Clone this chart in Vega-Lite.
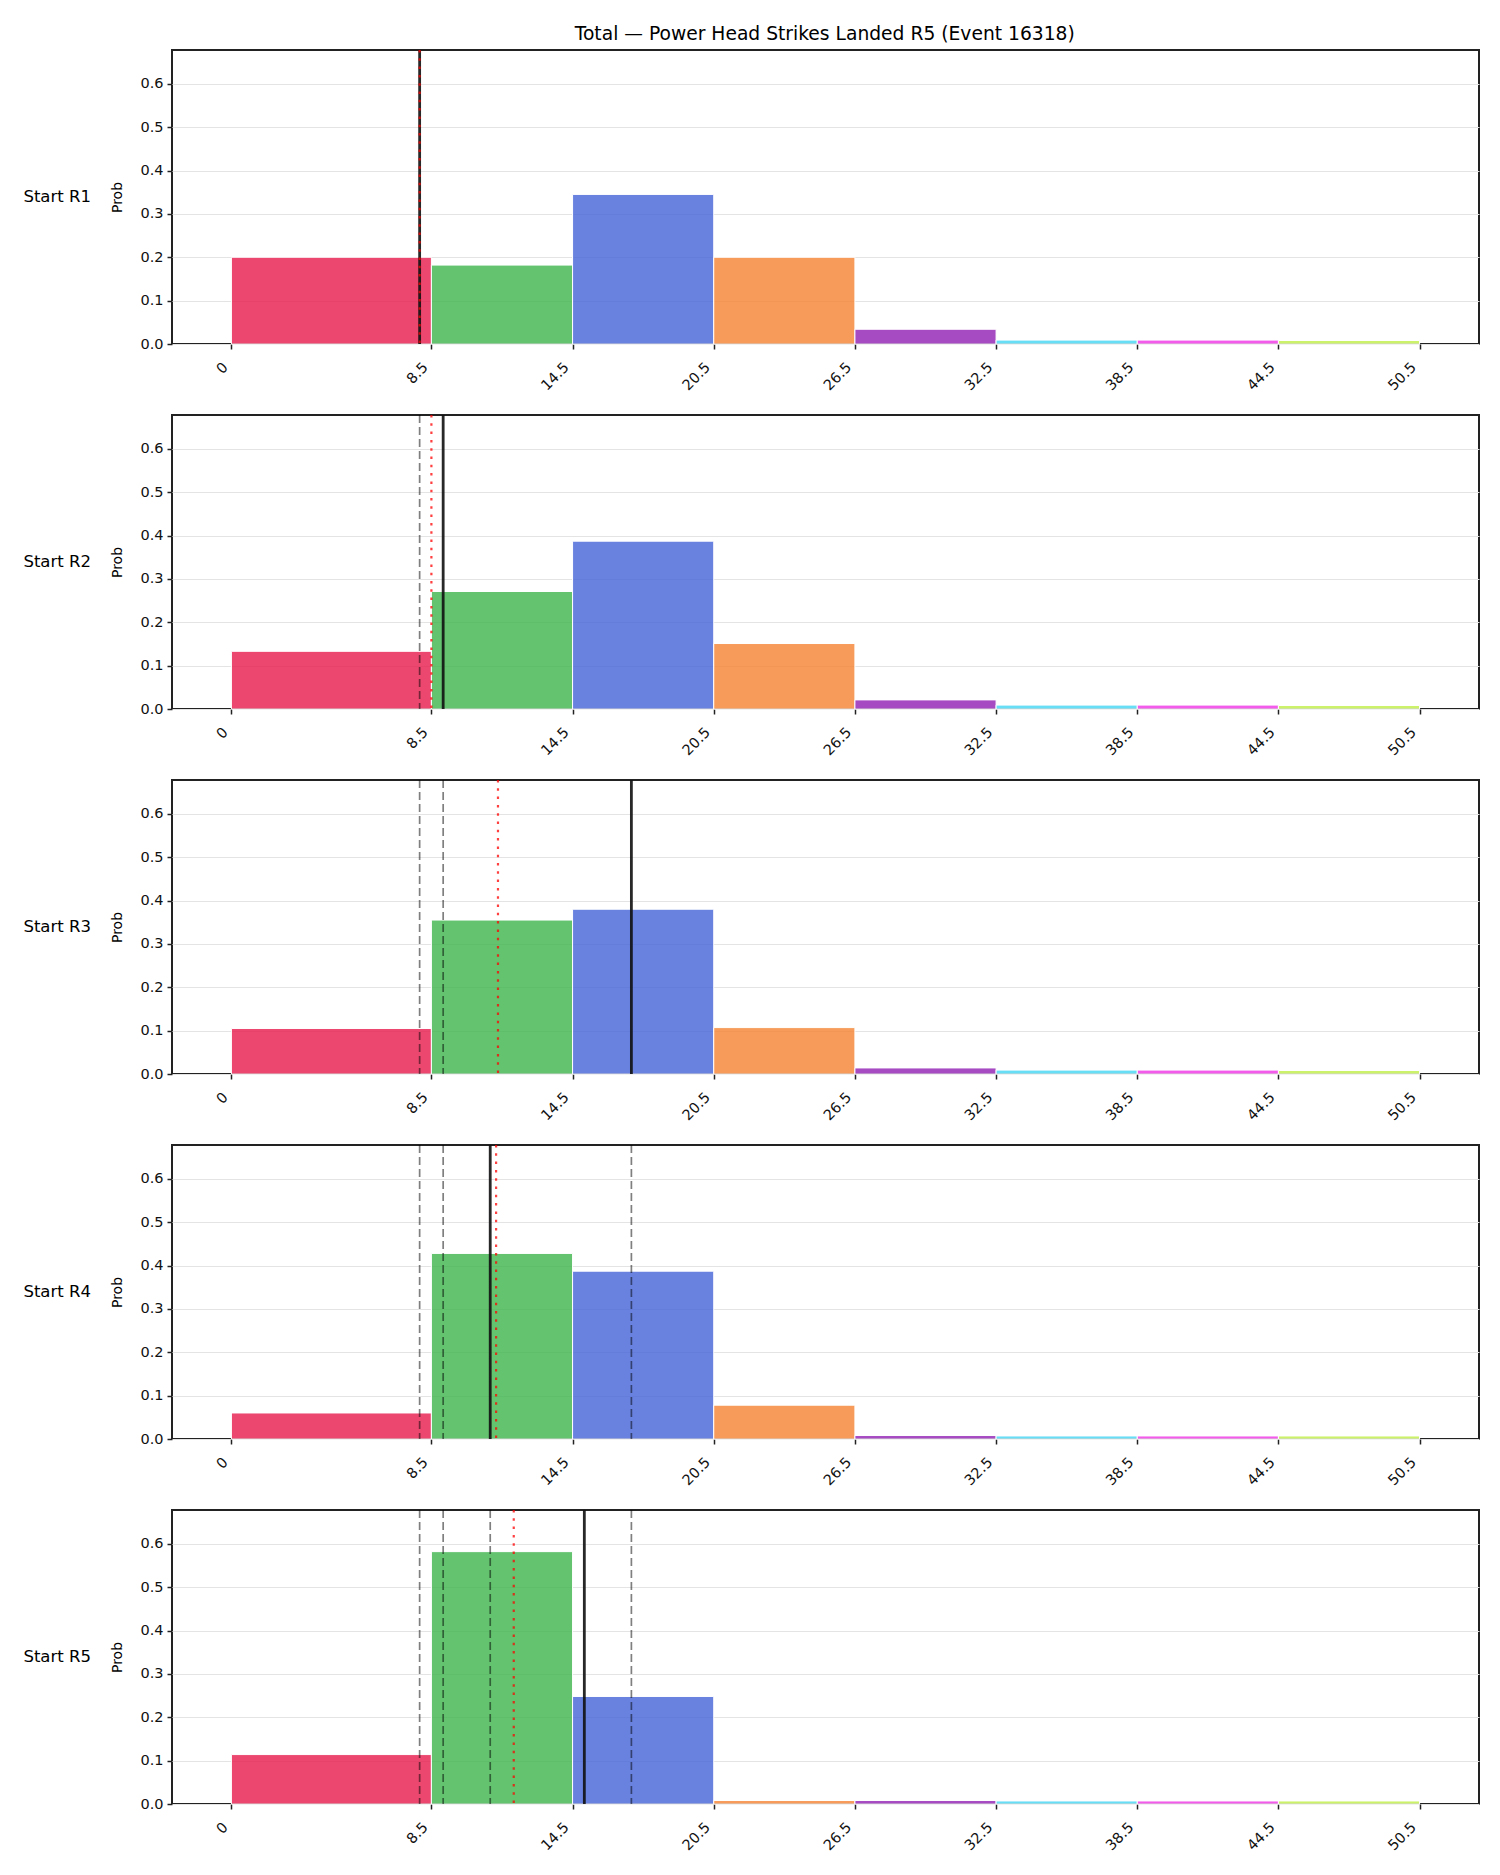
{
  "$schema": "https://vega.github.io/schema/vega-lite/v6.json",
  "padding": {"left": 23, "top": 24, "right": 5, "bottom": 5},
  "title": {
    "text": "Total — Power Head Strikes Landed R5 (Event 16318)",
    "fontSize": 18.7,
    "fontWeight": "normal",
    "font": "DejaVu Sans",
    "color": "#000",
    "anchor": "middle",
    "offset": 4.1,
    "dx": 73
  },
  "data": {
    "values": [
      {"start": "Start R1", "kind": "bar", "bin": "0–8.5", "lo": 0, "hi": 8.5, "prob": 0.200},
      {"start": "Start R1", "kind": "bar", "bin": "8.5–14.5", "lo": 8.5, "hi": 14.5, "prob": 0.182},
      {"start": "Start R1", "kind": "bar", "bin": "14.5–20.5", "lo": 14.5, "hi": 20.5, "prob": 0.345},
      {"start": "Start R1", "kind": "bar", "bin": "20.5–26.5", "lo": 20.5, "hi": 26.5, "prob": 0.200},
      {"start": "Start R1", "kind": "bar", "bin": "26.5–32.5", "lo": 26.5, "hi": 32.5, "prob": 0.034},
      {"start": "Start R1", "kind": "bar", "bin": "32.5–38.5", "lo": 32.5, "hi": 38.5, "prob": 0.009},
      {"start": "Start R1", "kind": "bar", "bin": "38.5–44.5", "lo": 38.5, "hi": 44.5, "prob": 0.009},
      {"start": "Start R1", "kind": "bar", "bin": "44.5–50.5", "lo": 44.5, "hi": 50.5, "prob": 0.008},
      {"start": "Start R1", "kind": "current", "value": 8},
      {"start": "Start R1", "kind": "mean", "value": 8},

      {"start": "Start R2", "kind": "bar", "bin": "0–8.5", "lo": 0, "hi": 8.5, "prob": 0.133},
      {"start": "Start R2", "kind": "bar", "bin": "8.5–14.5", "lo": 8.5, "hi": 14.5, "prob": 0.271},
      {"start": "Start R2", "kind": "bar", "bin": "14.5–20.5", "lo": 14.5, "hi": 20.5, "prob": 0.387},
      {"start": "Start R2", "kind": "bar", "bin": "20.5–26.5", "lo": 20.5, "hi": 26.5, "prob": 0.151},
      {"start": "Start R2", "kind": "bar", "bin": "26.5–32.5", "lo": 26.5, "hi": 32.5, "prob": 0.021},
      {"start": "Start R2", "kind": "bar", "bin": "32.5–38.5", "lo": 32.5, "hi": 38.5, "prob": 0.009},
      {"start": "Start R2", "kind": "bar", "bin": "38.5–44.5", "lo": 38.5, "hi": 44.5, "prob": 0.009},
      {"start": "Start R2", "kind": "bar", "bin": "44.5–50.5", "lo": 44.5, "hi": 50.5, "prob": 0.008},
      {"start": "Start R2", "kind": "prior", "value": 8},
      {"start": "Start R2", "kind": "current", "value": 9},
      {"start": "Start R2", "kind": "mean", "value": 8.5},

      {"start": "Start R3", "kind": "bar", "bin": "0–8.5", "lo": 0, "hi": 8.5, "prob": 0.105},
      {"start": "Start R3", "kind": "bar", "bin": "8.5–14.5", "lo": 8.5, "hi": 14.5, "prob": 0.355},
      {"start": "Start R3", "kind": "bar", "bin": "14.5–20.5", "lo": 14.5, "hi": 20.5, "prob": 0.380},
      {"start": "Start R3", "kind": "bar", "bin": "20.5–26.5", "lo": 20.5, "hi": 26.5, "prob": 0.107},
      {"start": "Start R3", "kind": "bar", "bin": "26.5–32.5", "lo": 26.5, "hi": 32.5, "prob": 0.014},
      {"start": "Start R3", "kind": "bar", "bin": "32.5–38.5", "lo": 32.5, "hi": 38.5, "prob": 0.009},
      {"start": "Start R3", "kind": "bar", "bin": "38.5–44.5", "lo": 38.5, "hi": 44.5, "prob": 0.009},
      {"start": "Start R3", "kind": "bar", "bin": "44.5–50.5", "lo": 44.5, "hi": 50.5, "prob": 0.008},
      {"start": "Start R3", "kind": "prior", "value": 8},
      {"start": "Start R3", "kind": "prior", "value": 9},
      {"start": "Start R3", "kind": "current", "value": 17},
      {"start": "Start R3", "kind": "mean", "value": 11.33},

      {"start": "Start R4", "kind": "bar", "bin": "0–8.5", "lo": 0, "hi": 8.5, "prob": 0.060},
      {"start": "Start R4", "kind": "bar", "bin": "8.5–14.5", "lo": 8.5, "hi": 14.5, "prob": 0.428},
      {"start": "Start R4", "kind": "bar", "bin": "14.5–20.5", "lo": 14.5, "hi": 20.5, "prob": 0.387},
      {"start": "Start R4", "kind": "bar", "bin": "20.5–26.5", "lo": 20.5, "hi": 26.5, "prob": 0.078},
      {"start": "Start R4", "kind": "bar", "bin": "26.5–32.5", "lo": 26.5, "hi": 32.5, "prob": 0.008},
      {"start": "Start R4", "kind": "bar", "bin": "32.5–38.5", "lo": 32.5, "hi": 38.5, "prob": 0.007},
      {"start": "Start R4", "kind": "bar", "bin": "38.5–44.5", "lo": 38.5, "hi": 44.5, "prob": 0.007},
      {"start": "Start R4", "kind": "bar", "bin": "44.5–50.5", "lo": 44.5, "hi": 50.5, "prob": 0.007},
      {"start": "Start R4", "kind": "prior", "value": 8},
      {"start": "Start R4", "kind": "prior", "value": 9},
      {"start": "Start R4", "kind": "prior", "value": 17},
      {"start": "Start R4", "kind": "current", "value": 11},
      {"start": "Start R4", "kind": "mean", "value": 11.25},

      {"start": "Start R5", "kind": "bar", "bin": "0–8.5", "lo": 0, "hi": 8.5, "prob": 0.114},
      {"start": "Start R5", "kind": "bar", "bin": "8.5–14.5", "lo": 8.5, "hi": 14.5, "prob": 0.582},
      {"start": "Start R5", "kind": "bar", "bin": "14.5–20.5", "lo": 14.5, "hi": 20.5, "prob": 0.248},
      {"start": "Start R5", "kind": "bar", "bin": "20.5–26.5", "lo": 20.5, "hi": 26.5, "prob": 0.008},
      {"start": "Start R5", "kind": "bar", "bin": "26.5–32.5", "lo": 26.5, "hi": 32.5, "prob": 0.008},
      {"start": "Start R5", "kind": "bar", "bin": "32.5–38.5", "lo": 32.5, "hi": 38.5, "prob": 0.007},
      {"start": "Start R5", "kind": "bar", "bin": "38.5–44.5", "lo": 38.5, "hi": 44.5, "prob": 0.007},
      {"start": "Start R5", "kind": "bar", "bin": "44.5–50.5", "lo": 44.5, "hi": 50.5, "prob": 0.007},
      {"start": "Start R5", "kind": "prior", "value": 8},
      {"start": "Start R5", "kind": "prior", "value": 9},
      {"start": "Start R5", "kind": "prior", "value": 17},
      {"start": "Start R5", "kind": "prior", "value": 11},
      {"start": "Start R5", "kind": "current", "value": 15},
      {"start": "Start R5", "kind": "mean", "value": 12}
    ]
  },
  "facet": {
    "row": {
      "field": "start",
      "type": "nominal",
      "sort": ["Start R1", "Start R2", "Start R3", "Start R4", "Start R5"],
      "title": null,
      "header": {
        "labelAngle": 0,
        "labelOrient": "left",
        "labelAlign": "left",
        "labelFont": "DejaVu Sans",
        "labelFontSize": 16.5,
        "labelColor": "#000",
        "labelPadding": 20
      }
    }
  },
  "spacing": 71,
  "bounds": "flush",
  "resolve": {"axis": {"x": "independent"}},
  "spec": {
    "width": 1307,
    "height": 294,
    "layer": [
      {
        "transform": [{"filter": "datum.kind === 'bar'"}],
        "mark": {"type": "bar", "fillOpacity": 0.8, "stroke": "#ffffff", "strokeWidth": 1},
        "encoding": {
          "x": {
            "field": "lo",
            "type": "quantitative",
            "title": null,
            "scale": {"domain": [-2.525, 53.025], "nice": false, "zero": false},
            "axis": {
              "values": [0, 8.5, 14.5, 20.5, 26.5, 32.5, 38.5, 44.5, 50.5],
              "format": ".1~f",
              "labelAngle": -45,
              "labelAlign": "right",
              "labelBaseline": "middle",
              "labelPadding": 16,
              "labelOffset": -6,
              "grid": false
            }
          },
          "x2": {"field": "hi"},
          "y": {
            "field": "prob",
            "type": "quantitative",
            "title": "Prob",
            "scale": {"domain": [0, 0.678], "nice": false},
            "axis": {
              "values": [0, 0.1, 0.2, 0.3, 0.4, 0.5, 0.6],
              "format": ".1f",
              "grid": true,
              "titlePadding": 15
            }
          },
          "y2": {"datum": 0},
          "color": {
            "field": "bin",
            "type": "nominal",
            "legend": null,
            "scale": {
              "domain": ["0–8.5", "8.5–14.5", "14.5–20.5", "20.5–26.5", "26.5–32.5", "32.5–38.5", "38.5–44.5", "44.5–50.5"],
              "range": ["#e6194b", "#3cb44b", "#4363d8", "#f58231", "#911eb4", "#42d4f4", "#f032e6", "#bfef45"]
            }
          }
        }
      },
      {
        "transform": [{"filter": "datum.kind === 'prior'"}],
        "mark": {"type": "rule", "color": "#000000", "opacity": 0.5, "strokeWidth": 1.7, "strokeDash": [8, 4]},
        "encoding": {"x": {"field": "value", "type": "quantitative", "title": null}}
      },
      {
        "transform": [{"filter": "datum.kind === 'current'"}],
        "mark": {"type": "rule", "color": "#111111", "opacity": 0.9, "strokeWidth": 2.8},
        "encoding": {"x": {"field": "value", "type": "quantitative", "title": null}}
      },
      {
        "transform": [{"filter": "datum.kind === 'mean'"}],
        "mark": {"type": "rule", "color": "#ff0000", "opacity": 0.75, "strokeWidth": 2.2, "strokeDash": [2.5, 5.8]},
        "encoding": {"x": {"field": "value", "type": "quantitative", "title": null}}
      }
    ]
  },
  "config": {
    "font": "DejaVu Sans",
    "view": {"stroke": "#222222", "strokeWidth": 2},
    "axis": {
      "domain": false,
      "tickColor": "#222222",
      "tickWidth": 1.5,
      "tickSize": 5,
      "labelFont": "DejaVu Sans",
      "labelFontSize": 14.5,
      "labelColor": "#111111",
      "labelPadding": 4,
      "titleFont": "DejaVu Sans",
      "titleFontSize": 14,
      "titleFontWeight": "normal",
      "titleColor": "#000000",
      "titlePadding": 8,
      "gridColor": "#e4e4e4",
      "gridWidth": 1
    }
  }
}
